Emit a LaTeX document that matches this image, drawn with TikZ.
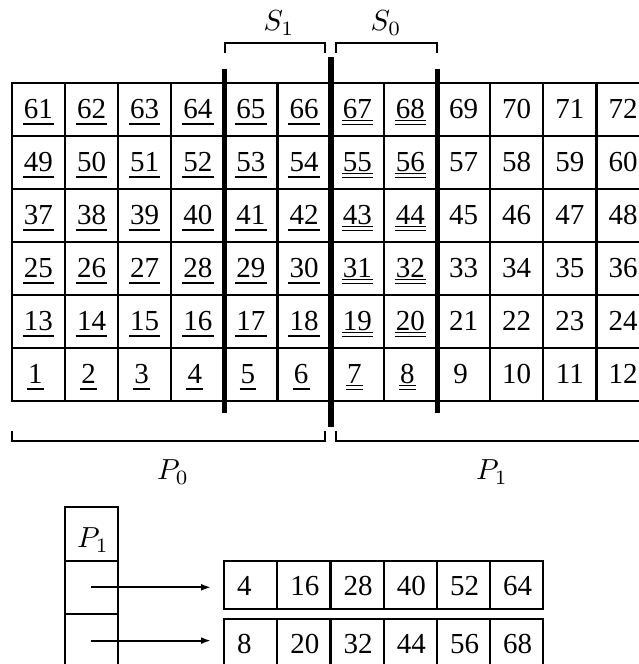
\documentclass[tikz,border=0pt]{standalone}
\usepackage[no-math]{fontspec}
\setmainfont{Liberation Serif}
\usetikzlibrary{arrows.meta}
\begin{document}
\begin{tikzpicture}[x=1pt,y=-1pt,
  cell/.style={draw,line width=2.2pt,minimum width=53.15pt,minimum height=53pt,inner sep=0pt,outer sep=0pt},
  lcell/.style={draw,line width=2.2pt,minimum width=53.2pt,minimum height=48pt,inner sep=0pt,outer sep=0pt},
  pcell/.style={draw,line width=2.2pt,minimum width=52.7pt,minimum height=53.3pt,inner sep=0pt,outer sep=0pt},
  num/.style={font=\fontsize{29}{35}\selectfont,inner sep=0pt,anchor=base},
  lab/.style={font=\fontsize{10}{12}\selectfont,inner sep=0pt,scale=2.9,transform shape},
  ulin/.style={line width=1.5pt},
  sep/.style={line width=4.6pt},
  sepmid/.style={line width=6pt},
  brk/.style={line width=2pt},
  arr/.style={line width=2.2pt,-{Latex[length=10pt,width=7pt]},shorten >=13pt}]
\useasboundingbox (0,0) rectangle (639,664);
% main grid
\foreach \r in {1,...,6}{
  \foreach \c in {1,...,12}{
    \node[cell] (g-\r-\c) at ({11.8+(\c-0.5)*53.15},{82.7+(\r-0.5)*53}) {};
  }
}
\foreach \r in {1,...,6}{
  \foreach \c in {1,...,12}{
    \pgfmathtruncatemacro\v{(6-\r)*12+\c}
    \pgfmathsetmacro\dx{\v<10 ? -3 : 0}
    \node[num] (n-\r-\c) at ([xshift=\dx pt,yshift=-9.1pt]g-\r-\c.center) {\v};
    \ifnum\c<7
      \draw[ulin] ([xshift=-1pt,yshift=-5.5pt]n-\r-\c.base west) -- ([xshift=1pt,yshift=-5.5pt]n-\r-\c.base east);
    \else\ifnum\c<9
      \draw[ulin] ([xshift=-1pt,yshift=-2.3pt]n-\r-\c.base west) -- ([xshift=1pt,yshift=-2.3pt]n-\r-\c.base east);
      \draw[ulin] ([xshift=-1pt,yshift=-6pt]n-\r-\c.base west) -- ([xshift=1pt,yshift=-6pt]n-\r-\c.base east);
    \fi\fi
  }
}
% separators
\coordinate (s1t) at (224.6,69);
\coordinate (s1b) at (224.6,413);
\coordinate (s2t) at (331.2,57);
\coordinate (s2b) at (331.2,427);
\coordinate (s3t) at (437.2,69);
\coordinate (s3b) at (437.2,413);
\draw[sep] (s1t) -- (s1b);
\draw[sepmid] (s2t) -- (s2b);
\draw[sep] (s3t) -- (s3b);
% brackets
\draw[brk] (224.6,53) -- (224.6,43) -- (325,43) -- (325,53);
\draw[brk] (336,53) -- (336,43) -- (437.2,43) -- (437.2,53);
\draw[brk] (11.8,431) -- (11.8,441) -- (325.3,441) -- (325.3,431);
\draw[brk] (335.7,431) -- (335.7,441) -- (660,441);
\node[lab] (S1) at (279,23) {$S_1$};
\node[lab] (S0) at (386,23) {$S_0$};
\node[lab] (P0) at (173,472) {$P_0$};
\node[lab] (P1) at (492,472) {$P_1$};
% lower part
\node[pcell] (l-1) at (91.35,534) {};
\node[pcell] (l-2) at (91.35,587.3) {};
\node[pcell] (l-3) at (91.35,640.6) {};
\node[lab] (P1h) at (93,540) {$P_1$};
\foreach \k/\a/\b in {1/4/8,2/16/20,3/28/32,4/40/44,5/52/56,6/64/68}{
  \node[lcell] (b1-\k) at ({224+(\k-0.5)*53.2},585) {};
  \node[lcell] (b2-\k) at ({224+(\k-0.5)*53.2},643) {};
  \node[num,anchor=base west] (t1-\k) at ({224+(\k-1)*53.2+13},595) {\a};
  \node[num,anchor=base west] (t2-\k) at ({224+(\k-1)*53.2+13},653.5) {\b};
}
\draw[arr] (l-2.center) -- (l-2.center -| b1-1.west);
\draw[arr] (l-3.center) -- (l-3.center -| b2-1.west);
\end{tikzpicture}
\end{document}
